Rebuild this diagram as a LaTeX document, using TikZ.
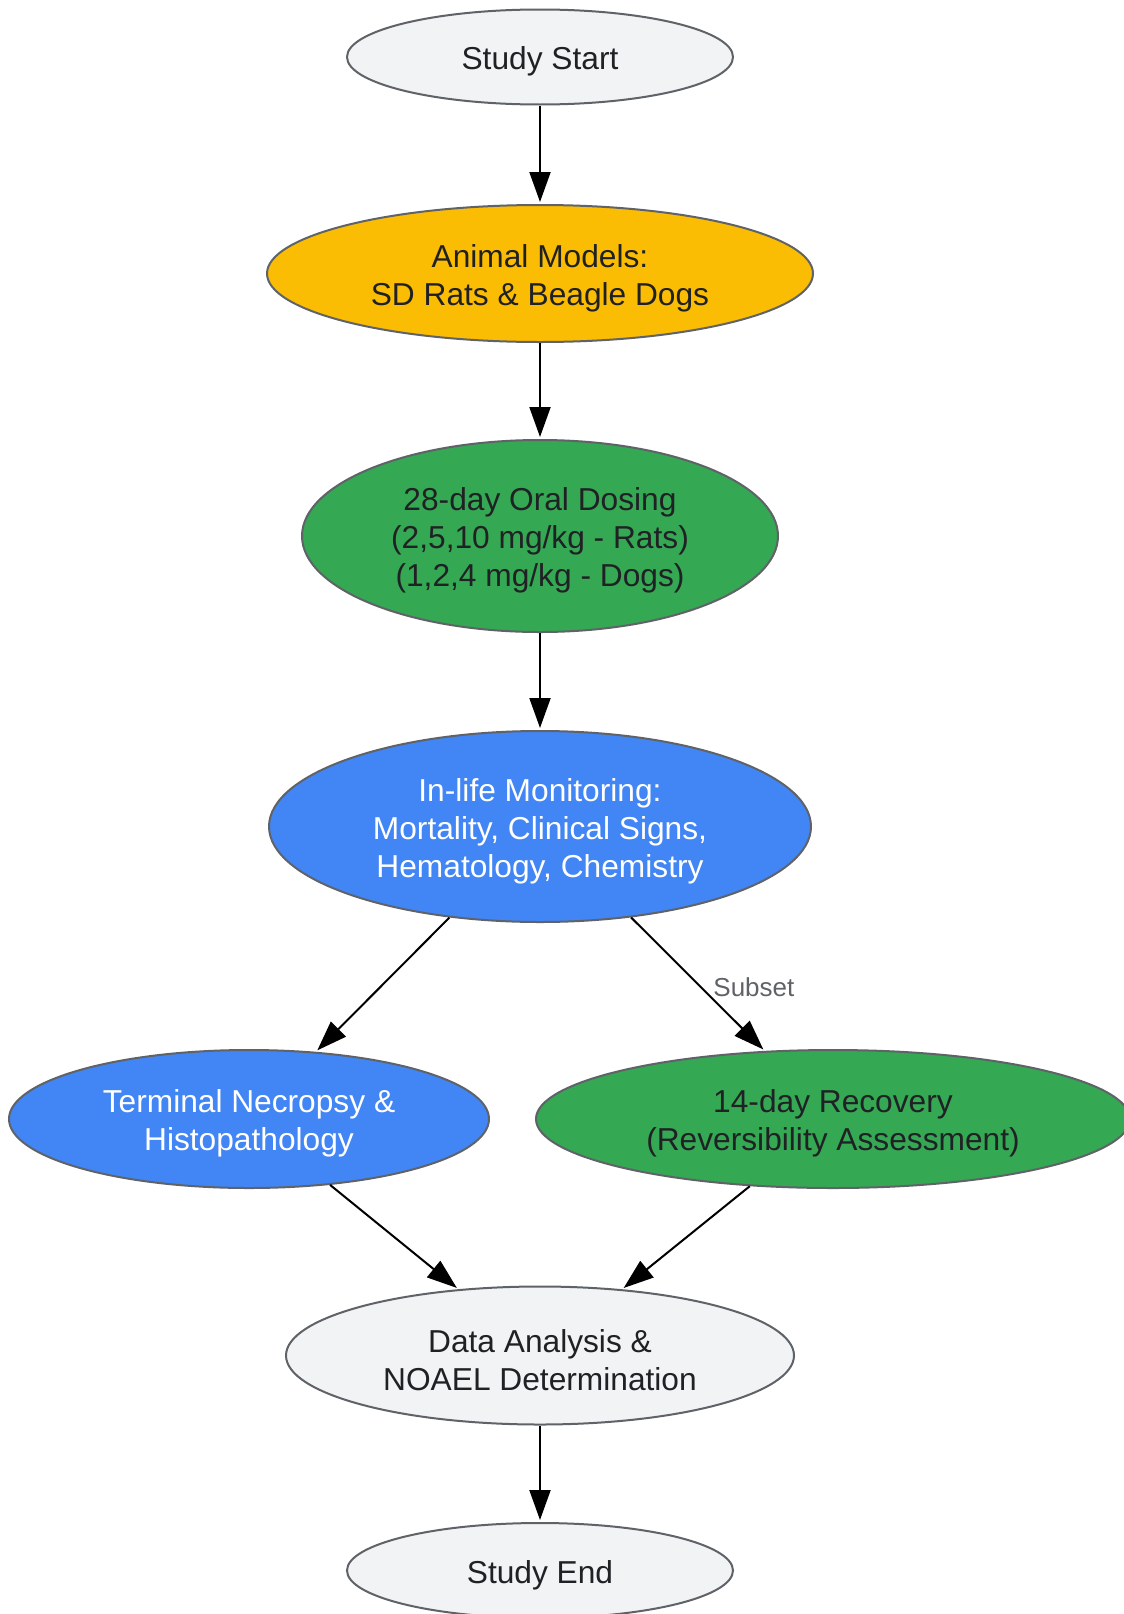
\documentclass[tikz,border=0pt]{standalone}
\usepackage{fontspec}
\setmainfont{Liberation Sans}
\usetikzlibrary{shapes.geometric,arrows.meta}
\definecolor{grayfill}{HTML}{F1F3F4}
\definecolor{edgegray}{HTML}{5F6368}
\definecolor{gyellow}{HTML}{FBBC04}
\definecolor{ggreen}{HTML}{34A853}
\definecolor{gblue}{HTML}{4285F4}
\definecolor{darktext}{HTML}{202124}
\tikzset{
  oval/.style={ellipse, draw=edgegray, line width=2pt, inner sep=0pt},
  txt/.style={align=center, inner sep=0pt, text=darktext, yshift=-4.5pt,
    font=\fontsize{31.7}{38}\selectfont},
  flow/.style={-{Triangle[length=30pt,width=21pt]}, line width=2pt, shorten >=2pt},
  lbl/.style={font=\fontsize{26}{30}\selectfont, text=edgegray, inner sep=0pt}
}
\begin{document}
\begin{tikzpicture}[x=1pt,y=-1pt]
\useasboundingbox[fill=white] (0,0) rectangle (1124,1614);
\node[oval, fill=grayfill, minimum width=386pt, minimum height=95pt] (start) at (540,57) {};
\node[txt] (startT) at (start) {Study Start};
\node[oval, fill=gyellow, minimum width=546pt, minimum height=137pt] (animal) at (540,273.5) {};
\node[txt] (animalT) at (animal) {Animal Models:\\SD Rats \& Beagle Dogs};
\node[oval, fill=ggreen, minimum width=476pt, minimum height=192pt] (dosing) at (540,536) {};
\node[txt] (dosingT) at (dosing) {28-day Oral Dosing\\(2,5,10 mg/kg - Rats)\\(1,2,4 mg/kg - Dogs)};
\node[oval, fill=gblue, minimum width=542pt, minimum height=191pt] (inlife) at (540,826.5) {};
\node[txt, text=white] (inlifeT) at (inlife) {In-life Monitoring:\\Mortality, Clinical Signs,\\Hematology, Chemistry};
\node[oval, fill=gblue, minimum width=480pt, minimum height=138pt] (term) at (249,1119) {};
\node[txt, text=white] (termT) at (term) {Terminal Necropsy \&\\Histopathology};
\node[oval, fill=ggreen, minimum width=594pt, minimum height=138pt] (recov) at (833,1119) {};
\node[txt] (recovT) at (recov) {14-day Recovery\\(Reversibility Assessment)};
\node[oval, fill=grayfill, minimum width=508pt, minimum height=138pt] (data) at (540,1355.5) {};
\node[txt] (dataT) at (data) {Data Analysis \&\\NOAEL Determination};
\node[oval, fill=grayfill, minimum width=386pt, minimum height=95pt] (end) at (540,1570.5) {};
\node[txt] (endT) at (end) {Study End};
\draw[flow] (start) -- (animal);
\draw[flow] (animal) -- (dosing);
\draw[flow] (dosing) -- (inlife);
\draw[flow] (inlife) -- (term);
\draw[flow] (inlife) -- node[lbl, midway, anchor=west, xshift=14.5pt, yshift=-3pt] {Subset} (recov);
\draw[flow] (term) -- (data);
\draw[flow] (recov) -- (data);
\draw[flow] (data) -- (end);
\end{tikzpicture}
\end{document}
